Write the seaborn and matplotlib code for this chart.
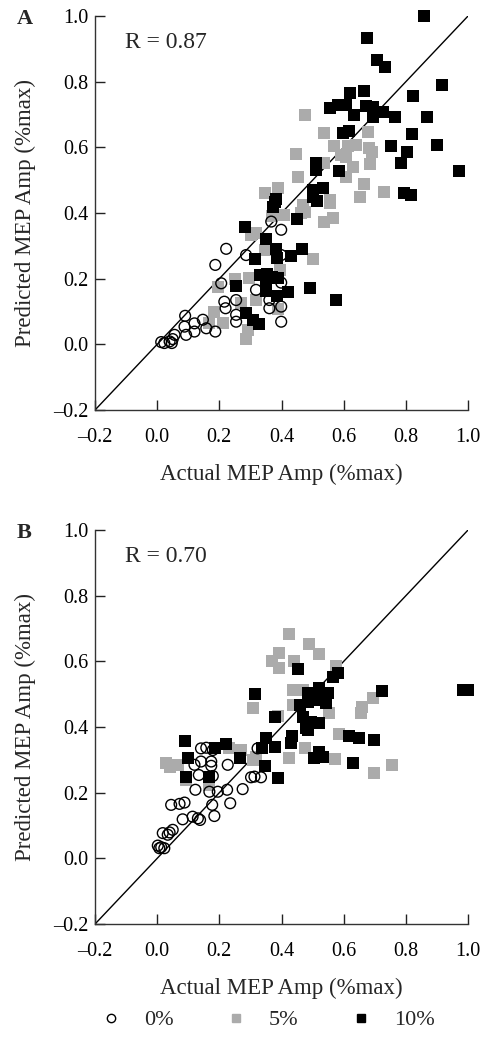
import pandas as pd
import seaborn as sns
import matplotlib.pyplot as plt

# ---- panel A (actual, predicted) ----
a0_x = [0.222, 0.187, 0.367, 0.399, 0.286, 0.399, 0.206, 0.318, 0.399, 0.216, 0.22, 0.254,
        0.361, 0.361, 0.399, 0.254, 0.254, 0.187, 0.147, 0.158, 0.399, 0.09, 0.12, 0.088,
        0.12, 0.093, 0.056, 0.05, 0.04, 0.013, 0.023, 0.047]
a0_y = [0.291, 0.242, 0.374, 0.349, 0.272, 0.272, 0.186, 0.166, 0.188, 0.13, 0.11, 0.135,
        0.135, 0.11, 0.115, 0.09, 0.069, 0.039, 0.075, 0.049, 0.069, 0.087, 0.064, 0.054,
        0.039, 0.029, 0.029, 0.016, 0.009, 0.007, 0.004, 0.004]

a5_x = [0.476, 0.538, 0.677, 0.57, 0.613, 0.64, 0.592, 0.608, 0.68, 0.691, 0.447, 0.538,
        0.629, 0.608, 0.686, 0.452, 0.667, 0.348, 0.388, 0.731, 0.557, 0.653, 0.556, 0.468,
        0.474, 0.463, 0.407, 0.37, 0.538, 0.565, 0.302, 0.318, 0.348, 0.5, 0.396, 0.252,
        0.295, 0.195, 0.27, 0.318, 0.184, 0.168, 0.211, 0.388, 0.291, 0.286]
a5_y = [0.699, 0.643, 0.648, 0.605, 0.605, 0.607, 0.577, 0.572, 0.597, 0.585, 0.58, 0.552,
        0.541, 0.511, 0.548, 0.511, 0.488, 0.462, 0.475, 0.463, 0.44, 0.448, 0.432, 0.425,
        0.404, 0.399, 0.394, 0.391, 0.374, 0.384, 0.333, 0.338, 0.288, 0.26, 0.227, 0.2,
        0.203, 0.176, 0.127, 0.135, 0.1, 0.064, 0.064, 0.107, 0.044, 0.016]

a10_x = [0.86, 0.674, 0.706, 0.734, 0.915, 0.824, 0.62, 0.666, 0.556, 0.581, 0.608, 0.634,
         0.672, 0.693, 0.725, 0.693, 0.766, 0.867, 0.82, 0.9, 0.752, 0.803, 0.785, 0.972,
         0.599, 0.616, 0.586, 0.511, 0.511, 0.795, 0.817, 0.532, 0.5, 0.5, 0.383, 0.514,
         0.38, 0.372, 0.449, 0.282, 0.35, 0.383, 0.386, 0.315, 0.431, 0.466, 0.331, 0.352,
         0.388, 0.37, 0.254, 0.35, 0.35, 0.42, 0.386, 0.492, 0.576, 0.286, 0.307, 0.326]
a10_y = [1.0, 0.934, 0.866, 0.846, 0.79, 0.757, 0.765, 0.773, 0.719, 0.729, 0.729, 0.699,
         0.726, 0.724, 0.709, 0.693, 0.692, 0.692, 0.64, 0.607, 0.605, 0.585, 0.553, 0.528,
         0.643, 0.651, 0.528, 0.551, 0.531, 0.46, 0.455, 0.475, 0.47, 0.45, 0.443, 0.438,
         0.435, 0.418, 0.382, 0.357, 0.321, 0.291, 0.262, 0.259, 0.269, 0.291, 0.212, 0.214,
         0.203, 0.206, 0.178, 0.176, 0.163, 0.158, 0.146, 0.171, 0.135, 0.097, 0.075, 0.062]

# ---- panel B (actual, predicted) ----
b0_x = [0.141, 0.158, 0.179, 0.323, 0.141, 0.174, 0.12, 0.227, 0.174, 0.134, 0.179, 0.302,
        0.313, 0.334, 0.123, 0.168, 0.195, 0.225, 0.275, 0.045, 0.072, 0.088, 0.177, 0.235,
        0.082, 0.114, 0.131, 0.138, 0.184, 0.018, 0.04, 0.05, 0.034, 0.002, 0.013, 0.023, 0.007]
b0_y = [0.335, 0.337, 0.33, 0.335, 0.295, 0.295, 0.285, 0.285, 0.282, 0.254, 0.251, 0.247,
        0.249, 0.247, 0.209, 0.203, 0.203, 0.209, 0.211, 0.163, 0.166, 0.17, 0.163, 0.168,
        0.119, 0.127, 0.122, 0.117, 0.129, 0.077, 0.079, 0.087, 0.072, 0.039, 0.034, 0.031, 0.031]

b5_x = [0.423, 0.487, 0.522, 0.393, 0.37, 0.393, 0.441, 0.576, 0.436, 0.468, 0.307, 0.438,
        0.552, 0.388, 0.693, 0.659, 0.656, 0.586, 0.474, 0.425, 0.573, 0.699, 0.756, 0.029,
        0.066, 0.04, 0.093, 0.27, 0.232, 0.307, 0.318, 0.168]
b5_y = [0.683, 0.653, 0.623, 0.626, 0.602, 0.579, 0.602, 0.586, 0.513, 0.513, 0.457, 0.467,
        0.442, 0.434, 0.488, 0.462, 0.444, 0.378, 0.335, 0.305, 0.303, 0.261, 0.285, 0.29,
        0.285, 0.279, 0.239, 0.33, 0.335, 0.3, 0.31, 0.224]

b10_x = [0.452, 0.581, 0.565, 0.315, 0.522, 0.484, 0.549, 0.484, 0.522, 0.543, 0.458, 0.723,
         0.983, 0.999, 0.38, 0.468, 0.495, 0.52, 0.479, 0.484, 0.35, 0.434, 0.431, 0.338,
         0.38, 0.618, 0.65, 0.699, 0.522, 0.532, 0.503, 0.629, 0.348, 0.388, 0.088, 0.098,
         0.093, 0.187, 0.222, 0.265, 0.168]
b10_y = [0.577, 0.566, 0.552, 0.5, 0.518, 0.503, 0.503, 0.477, 0.483, 0.472, 0.467, 0.51,
         0.513, 0.513, 0.432, 0.432, 0.416, 0.412, 0.396, 0.391, 0.366, 0.373, 0.351, 0.335,
         0.34, 0.373, 0.366, 0.361, 0.325, 0.308, 0.305, 0.292, 0.282, 0.244, 0.358, 0.307,
         0.249, 0.335, 0.349, 0.305, 0.249]

panels = [
    ("A", "R = 0.87", [(a0_x, a0_y), (a5_x, a5_y), (a10_x, a10_y)]),
    ("B", "R = 0.70", [(b0_x, b0_y), (b5_x, b5_y), (b10_x, b10_y)]),
]
group_labels = ["0%", "5%", "10%"]
ticks = [-0.2, 0.0, 0.2, 0.4, 0.6, 0.8, 1.0]

sns.set_style("ticks")
plt.rcParams["font.family"] = ["Liberation Serif", "DejaVu Serif"]

fig = plt.figure(figsize=(4.93, 10.42), dpi=100)
axes = [fig.add_axes([0.1927, 0.6065, 0.7566, 0.3781]),
        fig.add_axes([0.1927, 0.1132, 0.7566, 0.3781])]

tick_text = [f"{t:.1f}".replace("-", "\u2013") for t in ticks]

for ax, (letter, rtext, groups) in zip(axes, panels):
    (x0, y0), (x5, y5), (x10, y10) = groups
    ax.plot([-0.2, 1.0], [-0.2, 1.0], color="black", lw=1.0, zorder=1)
    sns.scatterplot(x=x5, y=y5, ax=ax, marker="s", color="#ababab", s=66,
                    linewidth=0, zorder=2, clip_on=False)
    sns.scatterplot(x=x0, y=y0, ax=ax, marker="o", s=60, facecolor="none",
                    edgecolor="black", linewidth=1.0, zorder=3, clip_on=False)
    sns.scatterplot(x=x10, y=y10, ax=ax, marker="s", color="black", s=66,
                    linewidth=0, zorder=4, clip_on=False)
    ax.set_xlim(-0.2, 1.0)
    ax.set_ylim(-0.2, 1.0)
    ax.set_xticks(ticks)
    ax.set_yticks(ticks)
    ax.set_xticklabels(tick_text)
    ax.set_yticklabels(tick_text)
    ax.tick_params(direction="in", length=7, width=1, labelsize=14.5,
                   colors="#222222", labelcolor="black")
    ax.tick_params(axis="x", pad=13)
    ax.tick_params(axis="y", pad=5)
    sns.despine(ax=ax)
    for sp in ("left", "bottom"):
        ax.spines[sp].set_linewidth(1.0)
        ax.spines[sp].set_color("#333333")
    ax.set_xlabel("Actual MEP Amp (%max)", fontsize=16.5, labelpad=12)
    ax.set_ylabel("Predicted MEP Amp (%max)", fontsize=16.5, labelpad=12)
    ax.text(-0.105, 0.92, rtext, fontsize=17, va="center", ha="left")
    ax.text(-0.21, 1.017, letter, transform=ax.transAxes, fontsize=16,
            fontweight="bold", va="top", ha="left")

# legend at the bottom
h0 = plt.Line2D([], [], marker="o", ls="", markerfacecolor="none",
                markeredgecolor="black", markersize=6, markeredgewidth=1.0)
h5 = plt.Line2D([], [], marker="s", ls="", color="#ababab", markersize=6)
h10 = plt.Line2D([], [], marker="s", ls="", color="black", markersize=6)
fig.legend([h0, h5, h10], group_labels, loc="center", ncol=3,
           bbox_to_anchor=(0.54, 0.021), frameon=False, fontsize=16,
           columnspacing=2.2, handletextpad=0.9, handlelength=1.2)

fig.savefig("out.png", dpi=100)
